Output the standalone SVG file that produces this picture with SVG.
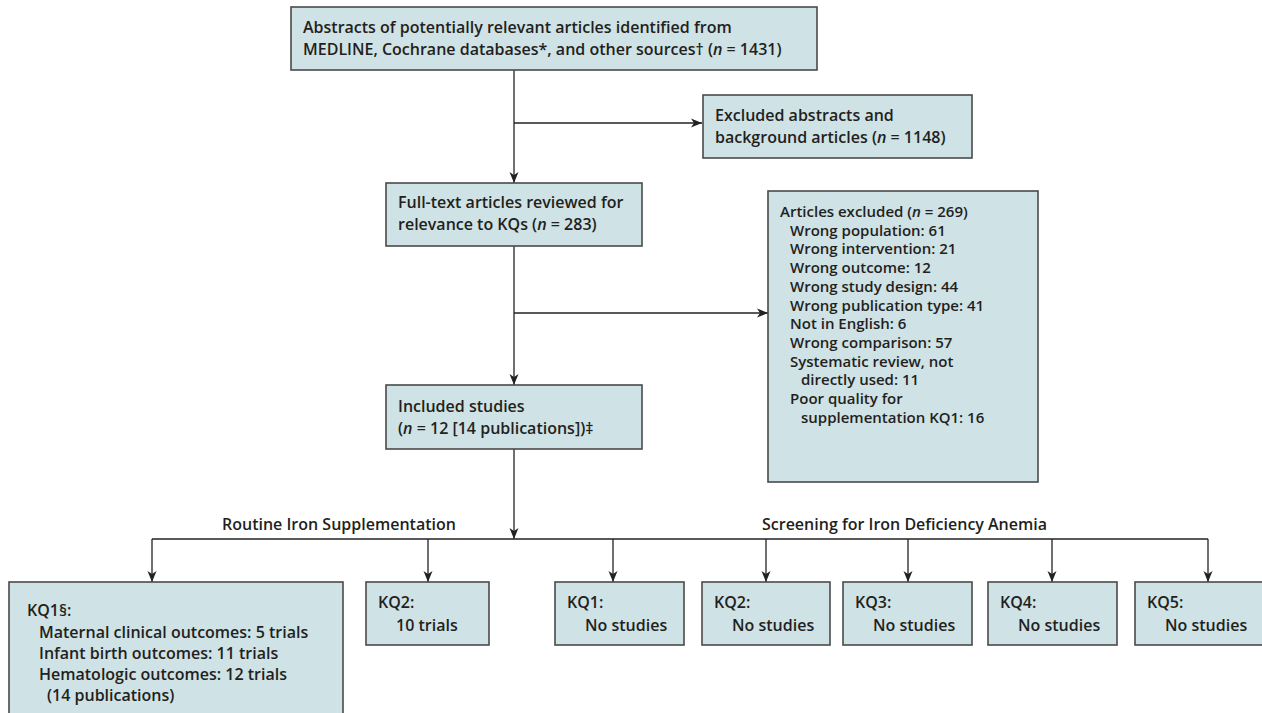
<svg xmlns="http://www.w3.org/2000/svg" width="1262" height="713" viewBox="0 0 1262 713">
<defs>
<marker id="arr" markerUnits="userSpaceOnUse" markerWidth="11" markerHeight="10" refX="11" refY="5" orient="auto">
<path d="M0,0.5 L11,5 L0,9.5 L3,5 z" fill="#222"/>
</marker>
<style>
.box{fill:#cfe2e5;stroke:#4a4a4a;stroke-width:1.6}
.t{font-family:"Open Sans",Lato,"Liberation Sans",sans-serif;font-weight:600;font-size:16px;fill:#231f20}
.s{font-size:15px}
.i{font-style:italic}
.ln{fill:none;stroke:#222;stroke-width:1.3}
.ar{marker-end:url(#arr)}
</style>
</defs>
<rect width="1262" height="713" fill="#ffffff"/>

<g id="connectors">
<line class="ln ar" x1="514" y1="70" x2="514" y2="183"/>
<line class="ln ar" x1="514" y1="123" x2="702" y2="123"/>
<line class="ln ar" x1="514" y1="246" x2="514" y2="385"/>
<line class="ln ar" x1="514" y1="313" x2="768" y2="313"/>
<line class="ln ar" x1="514" y1="449" x2="514" y2="539"/>
<line class="ln" x1="152" y1="539" x2="1208" y2="539"/>
<line class="ln ar" x1="152" y1="539" x2="152" y2="582"/>
<line class="ln ar" x1="428" y1="539" x2="428" y2="582"/>
<line class="ln ar" x1="613" y1="539" x2="613" y2="582"/>
<line class="ln ar" x1="766" y1="539" x2="766" y2="582"/>
<line class="ln ar" x1="908" y1="539" x2="908" y2="582"/>
<line class="ln ar" x1="1052" y1="539" x2="1052" y2="582"/>
<line class="ln ar" x1="1208" y1="539" x2="1208" y2="582"/>
<text class="t" x="222" y="530">Routine Iron Supplementation</text>
<text class="t" x="762" y="530">Screening for Iron Deficiency Anemia</text>
</g>

<g id="n-abstracts">
<rect class="box" x="291" y="7" width="526" height="63"/>
<text class="t" x="303" y="33">Abstracts of potentially relevant articles identified from</text>
<text class="t" x="303" y="55">MEDLINE, Cochrane databases*, and other sources† (<tspan class="i">n</tspan> = 1431)</text>
</g>

<g id="n-excluded-abstracts">
<rect class="box" x="703" y="95" width="269" height="63"/>
<text class="t" x="715" y="121">Excluded abstracts and</text>
<text class="t" x="715" y="143">background articles (<tspan class="i">n</tspan> = 1148)</text>
</g>

<g id="n-fulltext">
<rect class="box" x="386" y="183" width="256" height="63"/>
<text class="t" x="398" y="208">Full-text articles reviewed for</text>
<text class="t" x="398" y="230">relevance to KQs (<tspan class="i">n</tspan> = 283)</text>
</g>

<g id="n-articles-excluded">
<rect class="box" x="768" y="191" width="270" height="291"/>
<text class="t s" x="780" y="217">Articles excluded (<tspan class="i">n</tspan> = 269)</text>
<text class="t s" x="790" y="235.7">Wrong population: 61</text>
<text class="t s" x="790" y="254.4">Wrong intervention: 21</text>
<text class="t s" x="790" y="273.1">Wrong outcome: 12</text>
<text class="t s" x="790" y="291.8">Wrong study design: 44</text>
<text class="t s" x="790" y="310.5">Wrong publication type: 41</text>
<text class="t s" x="790" y="329.2">Not in English: 6</text>
<text class="t s" x="790" y="347.9">Wrong comparison: 57</text>
<text class="t s" x="790" y="366.6">Systematic review, not</text>
<text class="t s" x="801" y="385.3">directly used: 11</text>
<text class="t s" x="790" y="404">Poor quality for</text>
<text class="t s" x="801" y="422.7">supplementation KQ1: 16</text>
</g>

<g id="n-included">
<rect class="box" x="386" y="385" width="256" height="64"/>
<text class="t" x="398" y="412">Included studies</text>
<text class="t" x="398" y="434">(<tspan class="i">n</tspan> = 12 [14 publications])‡</text>
</g>

<g id="n-kq1-routine">
<rect class="box" x="9" y="582" width="334" height="150"/>
<text class="t" x="27" y="616">KQ1§:</text>
<text class="t" x="39" y="637.5">Maternal clinical outcomes: 5 trials</text>
<text class="t" x="39" y="658.5">Infant birth outcomes: 11 trials</text>
<text class="t" x="39" y="679.5">Hematologic outcomes: 12 trials</text>
<text class="t" x="47" y="700.5">(14 publications)</text>
</g>

<g id="n-kq2-routine">
<rect class="box" x="366" y="582" width="123" height="63"/>
<text class="t" x="378" y="608">KQ2:</text>
<text class="t" x="396" y="631">10 trials</text>
</g>

<g id="n-kq1-screen">
<rect class="box" x="555" y="582" width="129" height="63"/>
<text class="t" x="567" y="608">KQ1:</text>
<text class="t" x="585" y="631">No studies</text>
</g>

<g id="n-kq2-screen">
<rect class="box" x="702" y="582" width="128" height="63"/>
<text class="t" x="714" y="608">KQ2:</text>
<text class="t" x="732" y="631">No studies</text>
</g>

<g id="n-kq3-screen">
<rect class="box" x="843" y="582" width="129" height="63"/>
<text class="t" x="855" y="608">KQ3:</text>
<text class="t" x="873" y="631">No studies</text>
</g>

<g id="n-kq4-screen">
<rect class="box" x="988" y="582" width="129" height="63"/>
<text class="t" x="1000" y="608">KQ4:</text>
<text class="t" x="1018" y="631">No studies</text>
</g>

<g id="n-kq5-screen">
<rect class="box" x="1135" y="582" width="129" height="63"/>
<text class="t" x="1147" y="608">KQ5:</text>
<text class="t" x="1165" y="631">No studies</text>
</g>
</svg>
